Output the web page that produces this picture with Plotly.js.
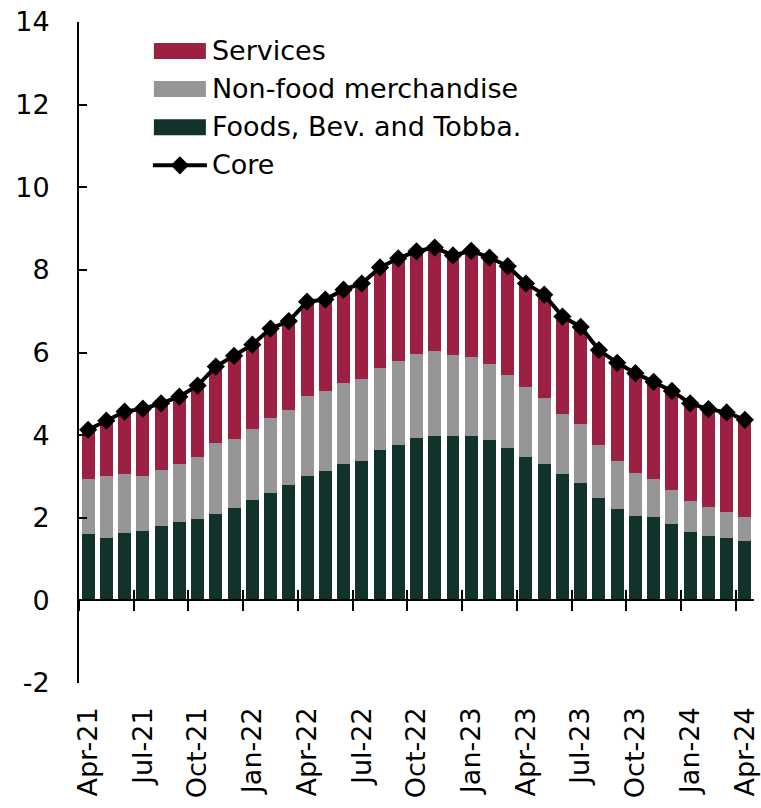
<!DOCTYPE html>
<html><head><meta charset="utf-8">
<script src="https://cdn.plot.ly/plotly-3.0.1.min.js"></script>
<style>body{margin:0;background:#fff}#c{width:761px;height:808px}</style>
</head><body><div id="c"></div>
<script>
const months = ["Apr-21","May-21","Jun-21","Jul-21","Aug-21","Sep-21","Oct-21","Nov-21","Dec-21",
"Jan-22","Feb-22","Mar-22","Apr-22","May-22","Jun-22","Jul-22","Aug-22","Sep-22","Oct-22","Nov-22","Dec-22",
"Jan-23","Feb-23","Mar-23","Apr-23","May-23","Jun-23","Jul-23","Aug-23","Sep-23","Oct-23","Nov-23","Dec-23",
"Jan-24","Feb-24","Mar-24","Apr-24"];
const foods = [1.60,1.50,1.62,1.69,1.79,1.89,1.97,2.10,2.23,2.42,2.61,2.79,3.02,3.13,3.30,3.38,3.63,3.75,3.92,3.97,3.99,3.99,3.89,3.70,3.48,3.30,3.05,2.85,2.47,2.22,2.05,2.01,1.86,1.65,1.56,1.50,1.43];
const nonfood = [1.33,1.52,1.43,1.33,1.37,1.41,1.50,1.72,1.68,1.74,1.81,1.82,1.92,1.93,1.96,1.97,2.00,2.04,2.04,2.06,1.95,1.91,1.84,1.76,1.69,1.60,1.45,1.41,1.28,1.16,1.04,0.92,0.82,0.76,0.71,0.64,0.60];
const services = [1.20,1.33,1.52,1.62,1.61,1.63,1.73,1.84,2.01,2.03,2.16,2.15,2.29,2.22,2.26,2.32,2.43,2.49,2.49,2.51,2.41,2.56,2.57,2.63,2.50,2.50,2.37,2.36,2.31,2.37,2.41,2.36,2.39,2.36,2.36,2.41,2.34];
const core = [4.13,4.35,4.57,4.64,4.77,4.93,5.20,5.66,5.92,6.19,6.58,6.76,7.23,7.28,7.52,7.67,8.06,8.28,8.45,8.54,8.35,8.46,8.30,8.09,7.67,7.40,6.87,6.62,6.06,5.75,5.50,5.29,5.07,4.77,4.63,4.55,4.37];
const yTickVals = [-2,0,2,4,6,8,10,12,14];
const yTickText = ["-2","0","2","4","6","8","10","12","14"];

const FONT = "DejaVu Sans";
const data = [
  {type:"bar", name:"Foods, Bev. and Tobba.", x:months, y:foods, marker:{color:"#12332b"}, legendrank:3, hoverinfo:"skip"},
  {type:"bar", name:"Non-food merchandise", x:months, y:nonfood, marker:{color:"#969696"}, legendrank:2, hoverinfo:"skip"},
  {type:"bar", name:"Services", x:months, y:services, marker:{color:"#9b2042"}, legendrank:1, hoverinfo:"skip"},
  {type:"scatter", mode:"lines+markers", name:"Core", x:months, y:core,
   line:{color:"#000", width:4}, marker:{symbol:"diamond", size:14, color:"#000"}, legendrank:4, hoverinfo:"skip"},
  {type:"scatter", x:[], y:[], xaxis:"x2", showlegend:false, hoverinfo:"skip"},
  {type:"scatter", x:[], y:[], xaxis:"x3", showlegend:false, hoverinfo:"skip"}
];
const layout = {
  width:761, height:808,
  margin:{l:79, r:7, t:22, b:125},
  paper_bgcolor:"#fff", plot_bgcolor:"#fff",
  font:{family:FONT, color:"#000", size:27},
  barmode:"stack", bargap:0.29,
  showlegend:true,
  legend:{x:0.108, y:0.995, xanchor:"left", yanchor:"top", bgcolor:"rgba(0,0,0,0)", traceorder:"normal",
          font:{family:FONT, size:27, color:"#000"}, tracegroupgap:0, itemwidth:50},
  xaxis:{type:"category", range:[-0.5,36.5], dtick:3, tickangle:-90, showline:false, ticks:"",
         showgrid:false, zeroline:false, ticklabelstandoff:18, tickfont:{family:FONT, size:27, color:"#000"}},
  xaxis2:{type:"linear", overlaying:"x", anchor:"free", position:0.125, range:[-0.5,36.5],
          tick0:-0.5, dtick:3, ticks:"outside", ticklen:10, tickwidth:2, tickcolor:"#000",
          showline:true, linecolor:"#000", linewidth:2, showticklabels:false, showgrid:false, zeroline:false},
  xaxis3:{type:"linear", overlaying:"x", anchor:"free", position:0.125, range:[-0.5,36.5],
          tick0:-0.5, dtick:3, ticks:"inside", ticklen:10, tickwidth:2, tickcolor:"#000",
          showline:false, showticklabels:false, showgrid:false, zeroline:false},
  yaxis:{range:[-2,14], tickmode:"array", tickvals:yTickVals, ticktext:yTickText,
         ticks:"inside", ticklen:8, tickwidth:2, tickcolor:"#000",
         showline:true, linecolor:"#000", linewidth:2, showgrid:false, zeroline:false,
         ticklabelstandoff:22, tickfont:{family:FONT, size:27, color:"#000"}}
};
Plotly.newPlot("c", data, layout, {displayModeBar:false, staticPlot:true}).then(function(gd){
  // widen legend swatches to match the reference's long rectangles
  gd.querySelectorAll('.legend .traces').forEach(function(g){
    const t = g.querySelector('text.legendtext');
    if(!t) return;
    const tr = t.getBoundingClientRect();
    const cy = tr.top + tr.height*0.52;
    const left = tr.left - 58, right = tr.left - 6, cx = (left+right)/2;
    const line = g.querySelector('path.js-line');
    const pt = g.querySelector('path.scatterpts');
    g.querySelectorAll('.legendpoints path').forEach(function(p){
      if(p === line || p === pt) return;
      if(p.classList.contains('js-fill') || p.classList.contains('js-line') || p.classList.contains('scatterpts')) return;
      const d = p.getAttribute('d');
      if(!d) return;
      const m = p.parentNode.getScreenCTM();
      p.removeAttribute('transform');
      const l = left - m.e, r = right - m.e, yy = cy - m.f;
      p.setAttribute('d', 'M'+r+','+(yy+8)+'H'+l+'V'+(yy-8)+'H'+r+'Z');
    });
    if(line){
      const m = line.parentNode.getScreenCTM();
      line.removeAttribute('transform');
      line.setAttribute('d', 'M'+(left-1-m.e)+','+(cy-m.f)+'H'+(right+1-m.e));
    }
    if(pt){
      const m = pt.parentNode.getScreenCTM();
      pt.setAttribute('transform', 'translate('+(cx-m.e)+','+(cy-m.f)+')');
    }
  });
});
</script></body></html>
